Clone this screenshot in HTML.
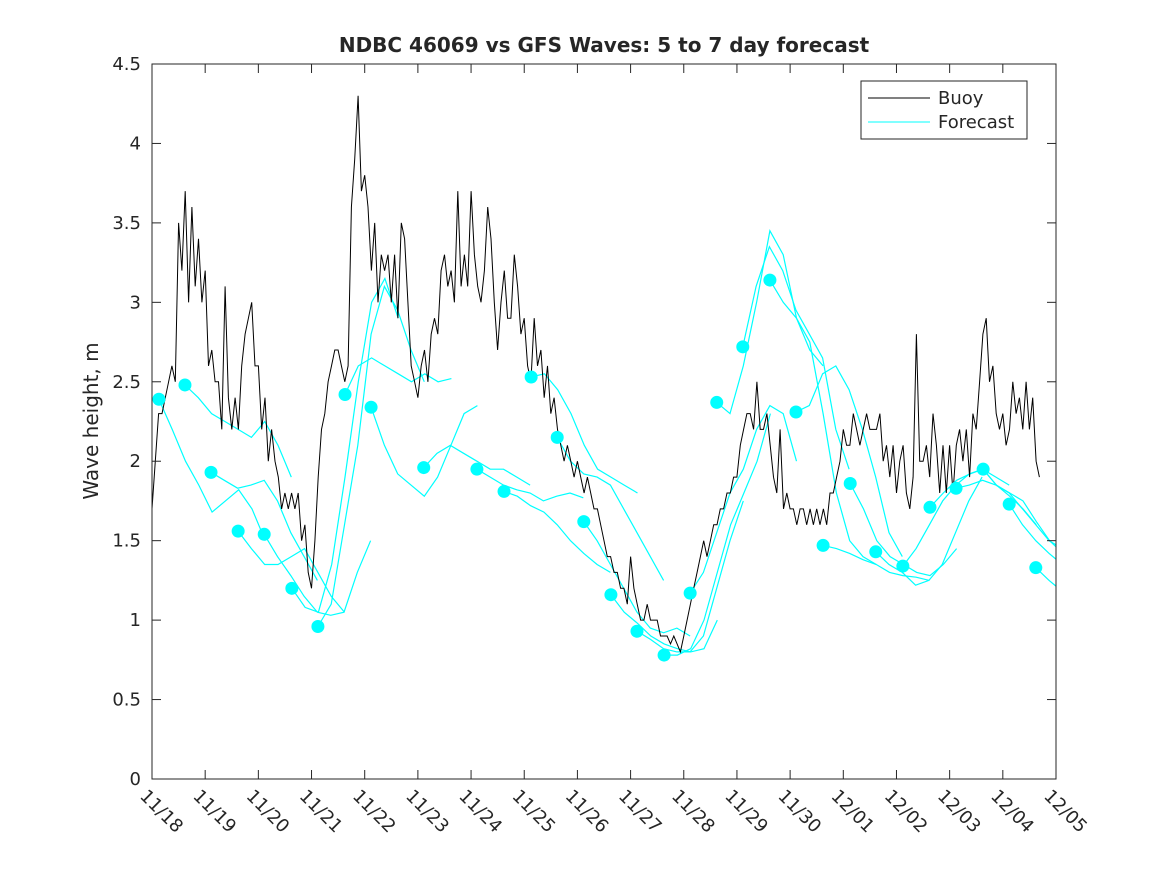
<!DOCTYPE html>
<html><head><meta charset="utf-8"><style>
body{margin:0;background:#fff;}
svg text{font-family:"DejaVu Sans","Liberation Sans",sans-serif;fill:#262626;}
</style></head><body>
<svg id="c" width="1167" height="875">
<rect width="1167" height="875" fill="#fff"/>
<defs><clipPath id="clip"><rect x="152" y="64" width="904" height="715"/></clipPath></defs>
<g id="series" clip-path="url(#clip)"></g>
<g id="axes"></g>
</svg>
<script>
const xTickLabels=["11/18","11/19","11/20","11/21","11/22","11/23","11/24","11/25","11/26","11/27","11/28","11/29","11/30","12/01","12/02","12/03","12/04","12/05"];
const yTicks=[0,0.5,1,1.5,2,2.5,3,3.5,4,4.5];
const buoyStep=0.0625;
const buoy=[1.7,2.0,2.3,2.3,2.4,2.5,2.6,2.5,3.5,3.2,3.7,3.0,3.6,3.1,3.4,3.0,
 3.2,2.6,2.7,2.5,2.5,2.2,3.1,2.4,2.2,2.4,2.2,2.6,2.8,2.9,3.0,2.6,
 2.6,2.2,2.4,2.0,2.2,2.0,1.9,1.7,1.8,1.7,1.8,1.7,1.8,1.5,1.6,1.3,
 1.2,1.5,1.9,2.2,2.3,2.5,2.6,2.7,2.7,2.6,2.5,2.6,3.6,3.9,4.3,3.7,
 3.8,3.6,3.2,3.5,3.0,3.3,3.2,3.3,3.0,3.3,2.9,3.5,3.4,3.0,2.6,2.5,
 2.4,2.6,2.7,2.5,2.8,2.9,2.8,3.2,3.3,3.1,3.2,3.0,3.7,3.1,3.3,3.1,
 3.7,3.3,3.1,3.0,3.2,3.6,3.4,3.0,2.7,3.0,3.2,2.9,2.9,3.3,3.1,2.8,
 2.9,2.6,2.5,2.9,2.6,2.7,2.4,2.6,2.3,2.4,2.2,2.1,2.0,2.1,2.0,1.9,
 2.0,1.9,1.8,1.9,1.8,1.7,1.7,1.6,1.5,1.4,1.4,1.3,1.3,1.2,1.2,1.1,
 1.4,1.2,1.1,1.0,1.0,1.1,1.0,1.0,1.0,0.9,0.9,0.9,0.85,0.9,0.85,0.8,
 0.9,1.0,1.1,1.2,1.3,1.4,1.5,1.4,1.5,1.6,1.6,1.7,1.7,1.8,1.8,1.9,
 1.9,2.1,2.2,2.3,2.3,2.2,2.5,2.2,2.2,2.3,2.1,1.9,1.8,2.2,1.7,1.8,
 1.7,1.7,1.6,1.7,1.7,1.6,1.7,1.6,1.7,1.6,1.7,1.6,1.8,1.8,1.9,2.0,
 2.2,2.1,2.1,2.3,2.2,2.1,2.2,2.3,2.2,2.2,2.2,2.3,2.0,2.1,1.9,2.1,
 1.8,2.0,2.1,1.8,1.7,1.9,2.8,2.0,2.0,2.1,1.9,2.3,2.1,1.8,2.1,1.8,
 2.1,1.8,2.1,2.2,2.0,2.2,1.9,2.3,2.2,2.5,2.8,2.9,2.5,2.6,2.3,2.2,
 2.3,2.1,2.2,2.5,2.3,2.4,2.2,2.5,2.2,2.4,2.0,1.9];
const fcStep=0.25;
const fcStart=[0.13,0.62,1.11,1.62,2.11,2.63,3.12,3.63,4.12,5.11,6.11,6.62,7.13,7.62,8.12,8.63,9.12,9.63,10.12,10.62,11.11,11.62,12.11,12.62,13.13,13.61,14.12,14.63,15.12,15.63,16.12,16.62];
const fcRuns=[
[2.39,2.2,2.0,1.85,1.68,1.75,1.82,1.7,1.5],
[2.48,2.4,2.3,2.25,2.2,2.15,2.25,2.1,1.9],
[1.93,1.88,1.83,1.85,1.88,1.75,1.55,1.4,1.25],
[1.56,1.45,1.35,1.35,1.4,1.45,1.3,1.15,1.05],
[1.54,1.4,1.28,1.15,1.05,1.03,1.05,1.3,1.5],
[1.2,1.08,1.05,1.35,1.9,2.5,3.0,3.15,2.9],
[0.96,1.1,1.6,2.1,2.8,3.1,2.95,2.7,2.5],
[2.42,2.6,2.65,2.6,2.55,2.5,2.55,2.5,2.52],
[2.34,2.1,1.92,1.85,1.78,1.9,2.1,2.3,2.35],
[1.96,2.05,2.1,2.05,2.0,1.95,1.95,1.9,1.85],
[1.95,1.9,1.85,1.82,1.8,1.75,1.78,1.8,1.77],
[1.81,1.78,1.72,1.68,1.6,1.5,1.42,1.35,1.3],
[2.53,2.55,2.45,2.3,2.1,1.95,1.9,1.85,1.8],
[2.15,2.0,1.92,1.9,1.85,1.7,1.55,1.4,1.25],
[1.62,1.5,1.35,1.2,1.05,0.95,0.92,0.95,0.9],
[1.16,1.05,0.98,0.9,0.85,0.82,0.8,0.82,1.0],
[0.93,0.88,0.82,0.8,0.8,0.9,1.2,1.5,1.75],
[0.78,0.78,0.82,1.0,1.3,1.6,1.8,2.0,2.3],
[1.17,1.3,1.55,1.8,1.95,2.2,2.35,2.3,2.0],
[2.37,2.3,2.6,3.0,3.45,3.3,2.9,2.7,2.6],
[2.72,3.1,3.35,3.2,2.95,2.8,2.65,2.2,1.95],
[3.14,3.0,2.9,2.75,2.3,1.8,1.5,1.4,1.35],
[2.31,2.35,2.55,2.6,2.45,2.2,1.9,1.55,1.4],
[1.47,1.45,1.42,1.38,1.35,1.3,1.28,1.27,1.25],
[1.86,1.7,1.5,1.4,1.35,1.3,1.28,1.35,1.45],
[1.43,1.35,1.3,1.22,1.25,1.35,1.55,1.75,1.9],
[1.34,1.45,1.6,1.75,1.85,1.92,1.95,1.9,1.85],
[1.71,1.8,1.88,1.92,1.95,1.85,1.78,1.7,1.6],
[1.83,1.85,1.88,1.85,1.8,1.7,1.6,1.5,1.45],
[1.95,1.85,1.8,1.75,1.62,1.5,1.42,1.35,1.3],
[1.73,1.6,1.5,1.42,1.35,1.25,1.15,1.08,1.0],
[1.33,1.25,1.18,1.1,1.05,1.0,0.95,0.9,0.85]];

const X0=152,X1=1056,Y0=779,Y1=64;
const xs=d=>X0+(X1-X0)*d/17;
const ys=v=>Y0-(Y0-Y1)*v/4.5;
const NS="http://www.w3.org/2000/svg";
function mk(tag,attrs,parent,txt){const e=document.createElementNS(NS,tag);for(const k in attrs)e.setAttribute(k,attrs[k]);if(txt!==undefined)e.textContent=txt;parent.appendChild(e);return e;}
const S=document.getElementById('series'),A=document.getElementById('axes');

fcRuns.forEach((run,i)=>{
 const pts=run.map((v,j)=>xs(fcStart[i]+j*fcStep).toFixed(1)+','+ys(v).toFixed(1)).join(' ');
 const l=mk('polyline',{points:pts,fill:'none',stroke:'#00ffff','stroke-width':1.2},S);
 
 
});
const bp=buoy.map((v,j)=>xs(j*buoyStep).toFixed(1)+','+ys(v).toFixed(1)).join(' ');
const bl=mk('polyline',{points:bp,fill:'none',stroke:'#000','stroke-width':1},S);


fcRuns.forEach((run,i)=>{
 const c=mk('circle',{cx:xs(fcStart[i]),cy:ys(run[0]),r:6.5,fill:'#00ffff'},S);
 
 
});

mk('rect',{x:X0,y:Y1,width:X1-X0,height:Y0-Y1,fill:'none',stroke:'#262626','stroke-width':1},A);
xTickLabels.forEach((t,i)=>{
 const x=xs(i);
 mk('line',{x1:x,x2:x,y1:Y0,y2:Y0-9,stroke:'#262626'},A);
 mk('line',{x1:x,x2:x,y1:Y1,y2:Y1+9,stroke:'#262626'},A);
 const tx=mk('text',{x:x-13,y:797,'font-size':18,transform:`rotate(45 ${x-13} 797)`},A,t);
 
 
});
yTicks.forEach(v=>{
 const y=ys(v);
 mk('line',{x1:X0,x2:X0+9,y1:y,y2:y,stroke:'#262626'},A);
 mk('line',{x1:X1,x2:X1-9,y1:y,y2:y,stroke:'#262626'},A);
 const tx=mk('text',{x:141,y:y+6,'font-size':18,'text-anchor':'end'},A,String(v));
 
 
});
</script>
<svg style="position:absolute;left:0;top:0" width="1167" height="875">
<text x="604" y="52" font-size="20" font-weight="bold" text-anchor="middle" fill="#000">NDBC 46069 vs GFS Waves: 5 to 7 day forecast</text>
<text x="0" y="0" font-size="20" text-anchor="middle" fill="#262626" transform="translate(98 421) rotate(-90)">Wave height, m</text>
<g>
<rect x="861" y="81" width="166" height="58" fill="#fff" stroke="#262626"/>
<line x1="868" x2="930" y1="98" y2="98" stroke="#000"/>
<text x="938" y="104" font-size="18" fill="#000">Buoy</text>
<line x1="868" x2="930" y1="122" y2="122" stroke="#00ffff"/>
<text x="938" y="128" font-size="18" fill="#000">Forecast</text>
</g>
</svg>
</body></html>
